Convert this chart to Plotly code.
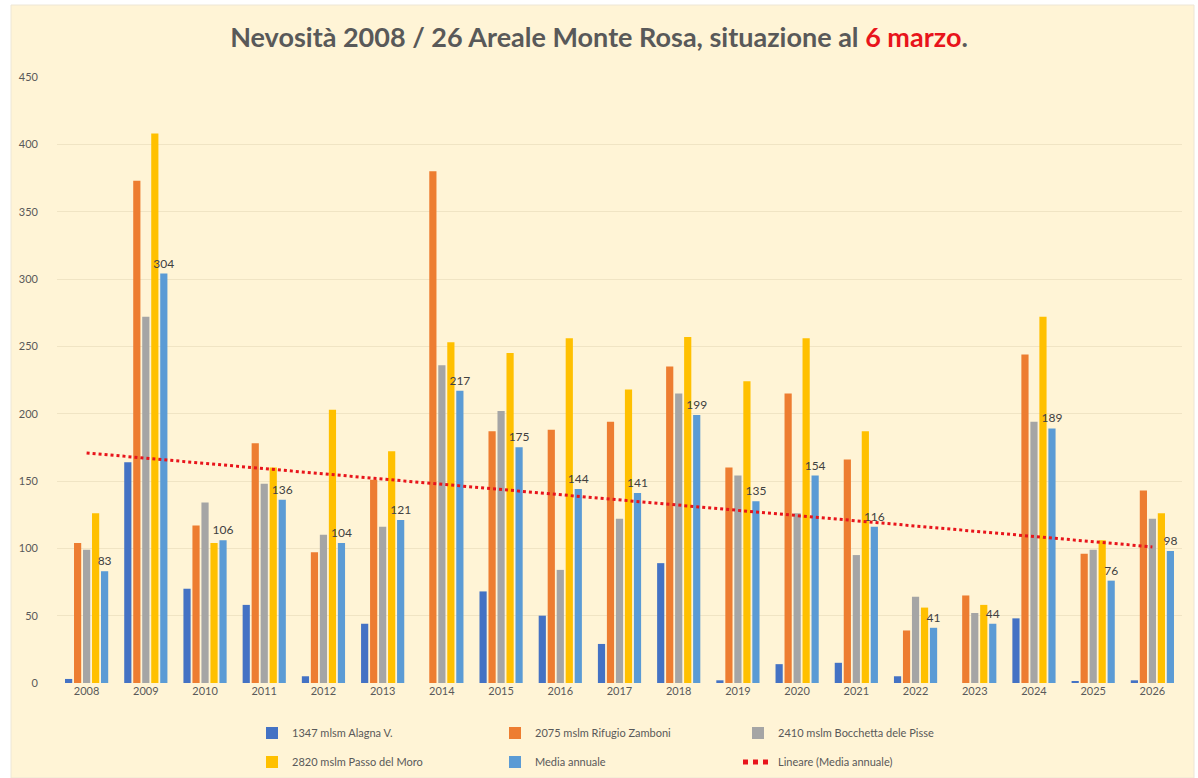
import numpy as np
import plotly.graph_objects as go

years = ["2008", "2009", "2010", "2011", "2012", "2013", "2014", "2015", "2016", "2017",
         "2018", "2019", "2020", "2021", "2022", "2023", "2024", "2025", "2026"]

alagna = [3, 164, 70, 58, 5, 44, 0, 68, 50, 29, 89, 2, 14, 15, 5, 0, 48, 1, 2]
zamboni = [104, 373, 117, 178, 97, 151, 380, 187, 188, 194, 235, 160, 215, 166, 39, 65, 244, 96, 143]
bocchetta = [99, 272, 134, 148, 110, 116, 236, 202, 84, 122, 215, 154, 126, 95, 64, 52, 194, 99, 122]
moro = [126, 408, 104, 160, 203, 172, 253, 245, 256, 218, 257, 224, 256, 187, 56, 58, 272, 106, 126]
media = [83, 304, 106, 136, 104, 121, 217, 175, 144, 141, 199, 135, 154, 116, 41, 44, 189, 76, 98]

series_names = ["1347 mlsm Alagna V.", "2075 mslm Rifugio Zamboni", "2410 mslm Bocchetta dele Pisse",
                "2820 mslm Passo del Moro", "Media annuale"]
trend_name = "Lineare (Media annuale)"

# linear trend of Media annuale
idx = np.arange(len(years))
slope, intercept = np.polyfit(idx, np.array(media, dtype=float), 1)
trend = (slope * idx + intercept).tolist()

colors = ["#4472C4", "#ED7D31", "#A5A5A5", "#FFC000", "#5B9BD5"]
cream = "#FFF4D6"
txt = "#595959"

W = 1198
H = 778
l, r, t, b = 57, 16, 77, 95
pw = W - l - r
ph = H - t - b


def px_x(px):
    return (px - l) / pw


def px_y(py):
    return (H - b - py) / ph


fig = go.Figure()
legend_of = ["legend", "legend", "legend", "legend2", "legend2"]
for name, vals, col, lg in zip(series_names, [alagna, zamboni, bocchetta, moro, media], colors, legend_of):
    kw = {}
    if name == "Media annuale":
        kw = dict(text=[str(v) for v in vals], textposition="outside", constraintext="none",
                  textfont=dict(size=12, color="#404040", family="Lato"), cliponaxis=False)
    fig.add_trace(go.Bar(x=years, y=vals, name=name, legend=lg,
                         marker=dict(color=col, line=dict(width=0)), **kw))

fig.add_trace(go.Scatter(x=years, y=trend, name=trend_name, mode="lines", legend="legend2",
                         line=dict(color="#E8141B", width=3, dash="dot")))

fig.add_shape(type="rect", xref="paper", yref="paper",
              x0=px_x(11), x1=px_x(1194), y0=px_y(778), y1=px_y(5),
              fillcolor=cream, line=dict(color="#EDE6D6", width=1), layer="below")

legend_common = dict(orientation="h", xanchor="left", yanchor="middle",
                     entrywidth=198, entrywidthmode="pixels", bgcolor="rgba(0,0,0,0)",
                     font=dict(size=11, color=txt), traceorder="normal", itemsizing="constant")

fig.update_layout(
    width=W, height=H,
    margin=dict(l=l, r=r, t=t, b=b, autoexpand=False),
    paper_bgcolor="white",
    plot_bgcolor="rgba(0,0,0,0)",
    barmode="group",
    bargap=0.24,
    bargroupgap=0.2,
    font=dict(family="Lato", color=txt, size=11),
    title=dict(
        text="Nevosità 2008 / 26 Areale Monte Rosa, situazione al <span style='color:#E8141B'>6 marzo</span>.",
        x=0.5, xref="container", xanchor="center",
        y=1 - 38 / H, yref="container", yanchor="middle",
        font=dict(family="Lato", size=27, color=txt, weight="bold"),
    ),
    xaxis=dict(type="category", showgrid=False, zeroline=False, showline=False,
               tickfont=dict(size=11, color=txt), ticks=""),
    yaxis=dict(range=[0, 450], dtick=50, showgrid=True, gridcolor="#F0E4C4", gridwidth=1,
               zeroline=False, showline=False, tickfont=dict(size=11, color=txt), ticks="",
               ticklabelstandoff=18),
    legend=dict(x=px_x(252), y=px_y(733), **legend_common),
    legend2=dict(x=px_x(252), y=px_y(762), **legend_common),
    showlegend=True,
)

fig.write_html("out.html", config={"displayModeBar": False},
               post_script="document.body.style.margin='0';")
